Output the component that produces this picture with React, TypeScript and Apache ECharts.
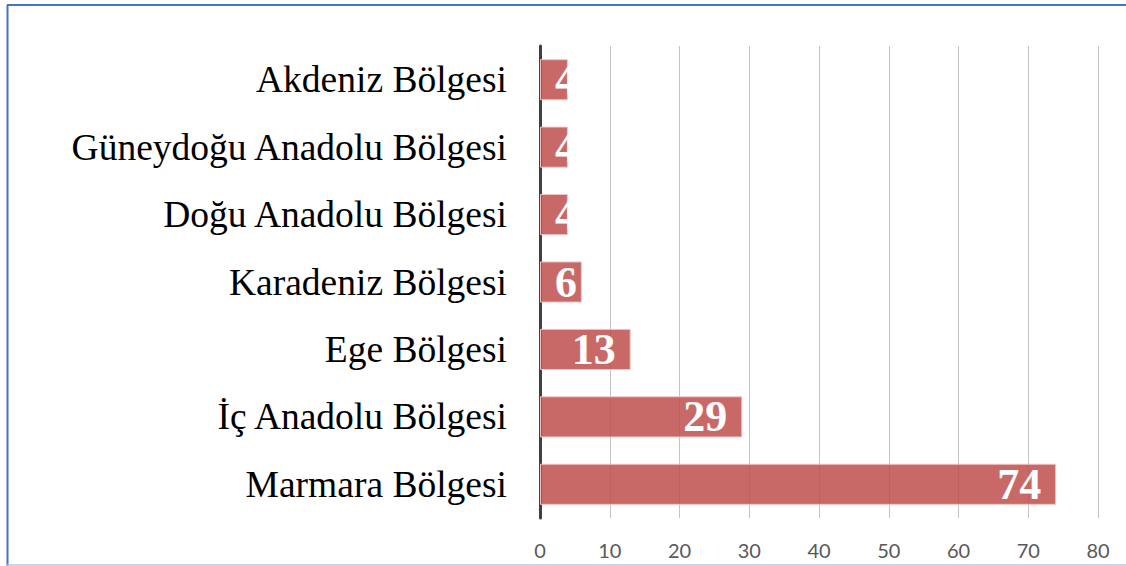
import React, { useEffect, useRef } from "react";
import * as echarts from "echarts";

const categories = [
  "Akdeniz Bölgesi",
  "Güneydoğu Anadolu Bölgesi",
  "Doğu Anadolu Bölgesi",
  "Karadeniz Bölgesi",
  "Ege Bölgesi",
  "İç Anadolu Bölgesi",
  "Marmara Bölgesi",
];
const values = [4, 4, 4, 6, 13, 29, 74];
const xTicks = [0, 10, 20, 30, 40, 50, 60, 70, 80];

export default function App() {
  const ref = useRef<HTMLDivElement>(null);
  useEffect(() => {
    if (!ref.current) return;
    const chart = echarts.init(ref.current, null, { renderer: "svg" });
    const data = values.map((v) =>
      v < 10
        ? { value: v, label: { position: "insideLeft", distance: 15 } }
        : { value: v }
    );
    chart.setOption({
      animation: false,
      backgroundColor: "#ffffff",
      grid: { left: 540, right: 28, top: 46, bottom: 48, containLabel: false },
      xAxis: {
        type: "value",
        min: xTicks[0],
        max: xTicks[xTicks.length - 1],
        interval: 10,
        axisLine: { show: false },
        axisTick: { show: false },
        splitLine: { show: true, lineStyle: { color: "#c4c4c4", width: 1 } },
        axisLabel: {
          color: "#595959",
          fontSize: 20,
          fontFamily: "Lato, 'Open Sans', sans-serif",
          margin: 22,
        },
      },
      yAxis: {
        type: "category",
        data: categories,
        inverse: true,
        axisLine: { show: true, lineStyle: { color: "#404040", width: 3 } },
        axisTick: { show: false },
        axisLabel: {
          color: "#000000",
          fontSize: 37.5,
          fontFamily: "'Liberation Serif', 'Times New Roman', serif",
          margin: 33,
        },
      },
      series: [
        {
          type: "bar",
          data,
          barCategoryGap: "39%",
          itemStyle: {
            color: "rgba(191,79,76,0.85)",
            borderColor: "#f2c4c3",
            borderWidth: 1,
          },
          label: {
            show: true,
            position: "insideRight",
            distance: 15,
            color: "#ffffff",
            fontSize: 44,
            fontWeight: "bold",
            fontFamily: "'Liberation Serif', 'Times New Roman', serif",
          },
        },
      ],
      graphic: [
        {
          type: "line",
          shape: { x1: 7, y1: 5, x2: 1126, y2: 5 },
          style: { stroke: "#4472c4", lineWidth: 2 },
          silent: true,
        },
        {
          type: "line",
          shape: { x1: 7.5, y1: 5, x2: 7.5, y2: 566 },
          style: { stroke: "#4472c4", lineWidth: 2 },
          silent: true,
        },
        {
          type: "line",
          shape: { x1: 7, y1: 565, x2: 1126, y2: 565 },
          style: { stroke: "#b4c7e7", lineWidth: 1.5 },
          silent: true,
        },
      ],
    });
    return () => chart.dispose();
  }, []);
  return (
    <div
      ref={ref}
      style={{ position: "absolute", left: 0, top: 0, width: 1126, height: 566 }}
    />
  );
}
